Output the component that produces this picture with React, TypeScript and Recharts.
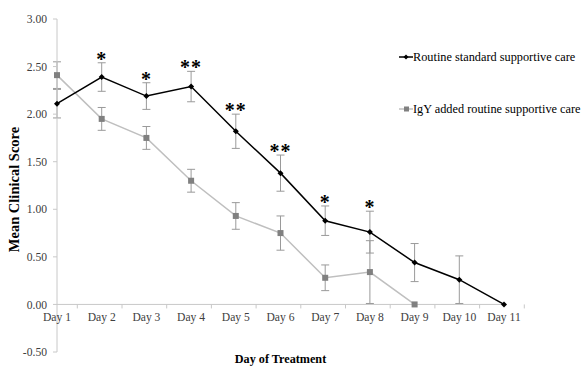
import React from "react";
import {
  LineChart,
  Line,
  XAxis,
  YAxis,
  ErrorBar,
  LabelList,
  ReferenceLine,
  ReferenceDot,
} from "recharts";

const FONT = '"Liberation Serif", "Times New Roman", serif';

const DAYS = ["Day 1", "Day 2", "Day 3", "Day 4", "Day 5", "Day 6", "Day 7", "Day 8", "Day 9", "Day 10", "Day 11"];
const ROUTINE = [2.11, 2.39, 2.19, 2.29, 1.82, 1.38, 0.88, 0.76, 0.44, 0.26, 0.0];
const ROUTINE_ERR = [0.15, 0.15, 0.14, 0.16, 0.18, 0.19, 0.155, 0.22, 0.2, 0.25, 0];
const IGY = [2.41, 1.95, 1.75, 1.3, 0.93, 0.75, 0.28, 0.34, 0.0, null, null];
const IGY_ERR = [0.14, 0.12, 0.12, 0.12, 0.14, 0.18, 0.135, 0.33, 0, null, null];
const MARKS = ["", "*", "*", "**", "**", "**", "*", "*", "", "", ""];
const Y_TICKS = [-0.5, 0, 0.5, 1, 1.5, 2, 2.5, 3];

const data = DAYS.map((day, i) => ({
  day,
  routine: ROUTINE[i],
  routineErr: ROUTINE_ERR[i],
  igy: IGY[i],
  igyErr: IGY_ERR[i],
  starY: ROUTINE[i] + ROUTINE_ERR[i],
  mark: MARKS[i],
}));

const HALF_BAND = 20.3;

function DayLabel(props: any) {
  const { cx, cy, label } = props;
  return (
    <g>
      <line x1={cx + HALF_BAND} x2={cx + HALF_BAND} y1={cy} y2={cy + 4} stroke="#c8c8c8" />
      <text x={cx} y={cy + 17} textAnchor="middle" fontSize={11.6} fill="#404040" style={{ fontFamily: FONT }}>
        {label}
      </text>
    </g>
  );
}

function RoutineDot(props: any) {
  const { cx, cy } = props;
  if (cx == null || cy == null) return null;
  return <path d={`M${cx},${cy - 3}L${cx + 3},${cy}L${cx},${cy + 3}L${cx - 3},${cy}Z`} fill="#000" />;
}

function IgyDot(props: any) {
  const { cx, cy } = props;
  if (cx == null || cy == null) return null;
  return <rect x={cx - 3} y={cy - 3} width={6} height={6} fill="#808080" />;
}

function Star(props: any) {
  const { x, y, value } = props;
  if (!value) return null;
  return (
    <text
      x={x}
      y={y + 3}
      textAnchor="middle"
      fontSize={20}
      fontWeight="bold"
      fill="#000"
      letterSpacing={1}
      style={{ fontFamily: FONT }}
    >
      {value}
    </text>
  );
}

export default function App() {
  return (
    <div style={{ position: "relative", width: 581, height: 366, background: "#fff", fontFamily: FONT }}>
      <style>{`body{margin:0;font-family:${FONT}} svg text{font-family:${FONT}}`}</style>
      <LineChart
        width={581}
        height={366}
        data={data}
        margin={{ top: 19, right: 77, bottom: 14, left: 0 }}
        style={{ fontFamily: FONT }}
      >
        <XAxis dataKey="day" hide />
        <YAxis
          width={57}
          domain={[-0.5, 3]}
          ticks={Y_TICKS}
          tickFormatter={(v) => Number(v).toFixed(2)}
          tick={{ fontSize: 11.6, fill: "#404040", style: { fontFamily: FONT } }}
          axisLine={{ stroke: "#c8c8c8" }}
          tickLine={{ stroke: "#c8c8c8" }}
          tickSize={4}
          tickMargin={6}
          label={{
            value: "Mean Clinical Score",
            angle: -90,
            position: "insideLeft",
            dx: 9,
            dy: 4,
            style: { fontSize: 14.5, fontWeight: "bold", fill: "#000", fontFamily: FONT, textAnchor: "middle" },
          }}
        />
        <ReferenceLine y={0} stroke="#c8c8c8" />
        {DAYS.map((d) => (
          <ReferenceDot key={d} x={d} y={0} r={0} shape={(p: any) => <DayLabel {...p} label={d} />} />
        ))}
        <Line
          dataKey="igy"
          stroke="#bfbfbf"
          strokeWidth={1.5}
          dot={<IgyDot />}
          activeDot={false}
          isAnimationActive={false}
        >
          <ErrorBar dataKey="igyErr" width={4} stroke="#9a9a9a" strokeWidth={1} />
        </Line>
        <Line
          dataKey="routine"
          stroke="#000"
          strokeWidth={1.5}
          dot={<RoutineDot />}
          activeDot={false}
          isAnimationActive={false}
        >
          <ErrorBar dataKey="routineErr" width={4} stroke="#9a9a9a" strokeWidth={1} />
        </Line>
        <Line dataKey="starY" stroke="none" dot={false} activeDot={false} isAnimationActive={false}>
          <LabelList dataKey="mark" content={<Star />} />
        </Line>
      </LineChart>
      <div
        style={{
          position: "absolute",
          left: 200,
          top: 352,
          width: 161,
          textAlign: "center",
          fontSize: 12.2,
          fontWeight: "bold",
          color: "#000",
          whiteSpace: "nowrap",
        }}
      >
        Day of Treatment
      </div>
      <div
        style={{
          position: "absolute",
          left: 399,
          top: 49,
          fontSize: 12.3,
          color: "#000",
          lineHeight: "16px",
          whiteSpace: "nowrap",
        }}
      >
        <div style={{ display: "flex", alignItems: "center", height: 16 }}>
          <svg width={14} height={8}>
            <line x1={0} x2={14} y1={4} y2={4} stroke="#000" strokeWidth={1.5} />
            <path d="M7,1.5L9.5,4L7,6.5L4.5,4Z" fill="#000" />
          </svg>
          <span>Routine standard supportive care</span>
        </div>
        <div style={{ display: "flex", alignItems: "center", height: 16, marginTop: 36 }}>
          <svg width={14} height={8}>
            <line x1={0} x2={14} y1={4} y2={4} stroke="#bfbfbf" strokeWidth={1.5} />
            <rect x={5} y={1.5} width={5} height={5} fill="#808080" />
          </svg>
          <span>IgY added routine supportive care</span>
        </div>
      </div>
    </div>
  );
}
